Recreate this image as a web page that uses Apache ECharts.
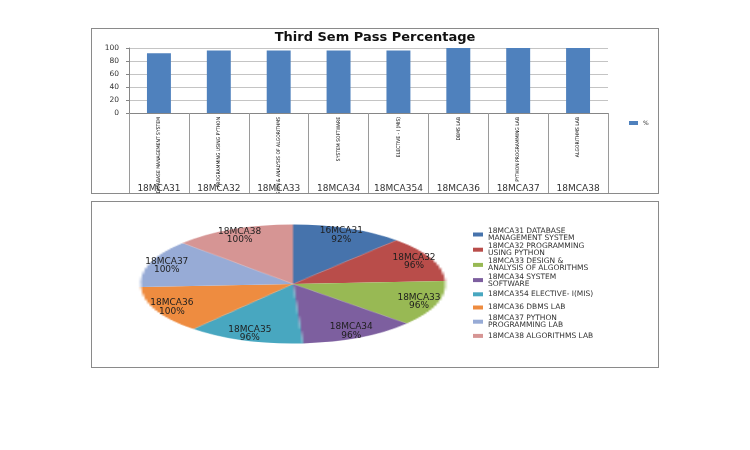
<!DOCTYPE html>
<html>
<head>
<meta charset="utf-8">
<script src="https://cdn.jsdelivr.net/npm/echarts@6/dist/echarts.min.js"></script>
<style>
body { margin: 0; background: #fff; }
.card {
    position: absolute;
    box-sizing: border-box;
    border: 1px solid #8a8a8a;
    background: #fff;
}
#barCard { left: 91px; top: 28px; width: 568px; height: 166px; }
#pieCard { left: 91px; top: 201px; width: 568px; height: 167px; }
#bar { position: absolute; left: 0; top: 0; width: 566px; height: 164px; }
/* excel drew the pie squashed, so the pie canvas is stretched sideways */
#pieShape {
    position: absolute;
    left: 136px; top: 17px; width: 130px; height: 130px;
    transform: scaleX(2.56);
    transform-origin: 50% 50%;
}
#pieText { position: absolute; left: 0; top: 0; width: 566px; height: 165px; }
</style>
</head>
<body>
<div id="barCard" class="card"><div id="bar"></div></div>
<div id="pieCard" class="card">
  <div id="pieShape"></div>
  <div id="pieText"></div>
</div>

<script>
// data
var subjects = ['DATABASE MANAGEMENT SYSTEM', 'PROGRAMMING USING PYTHON', 'DESIGN & ANALYSIS OF ALGORITHMS',
    'SYSTEM SOFTWARE', 'ELECTIVE - I (MIS)', 'DBMS LAB', 'PYTHON PROGRAMMING LAB', 'ALGORITHMS LAB'];
var codes = ['18MCA31', '18MCA32', '18MCA33', '18MCA34', '18MCA354', '18MCA36', '18MCA37', '18MCA38'];
var passPct = [92, 96, 96, 96, 96, 100, 100, 100];
var yTicks = { min: 0, max: 100, step: 20 };

// pie labels (as printed on the slices) and legend text
var pieCodes = ['16MCA31', '18MCA32', '18MCA33', '18MCA34', '18MCA35', '18MCA36', '18MCA37', '18MCA38'];
var legendNames = ['18MCA31 DATABASE\nMANAGEMENT SYSTEM', '18MCA32 PROGRAMMING\nUSING PYTHON',
    '18MCA33 DESIGN &\nANALYSIS OF ALGORITHMS', '18MCA34 SYSTEM\nSOFTWARE', '18MCA354 ELECTIVE- I(MIS)',
    '18MCA36 DBMS LAB', '18MCA37 PYTHON\nPROGRAMMING LAB', '18MCA38 ALGORITHMS LAB'];
var pieColors = ['#4673ac', '#b94d4a', '#98b954', '#7d5f9f', '#48a7c0', '#ee8c40', '#97abd6', '#d69594'];

var FONT = '"DejaVu Sans", Verdana, sans-serif';

// ---------- bar chart ----------
var barChart = echarts.init(document.getElementById('bar'));
barChart.setOption({
    animation: false,
    title: {
        text: 'Third Sem Pass Percentage',
        left: 'center',
        top: 2,
        padding: 0,
        textStyle: { fontFamily: FONT, fontSize: 13, fontWeight: 'bold', color: '#111' }
    },
    legend: {
        left: 532, top: 86,
        itemWidth: 9, itemHeight: 4, icon: 'rect',
        textStyle: { fontFamily: FONT, fontSize: 6, color: '#333' },
        data: ['%']
    },
    grid: { left: 37, right: 50, top: 19, bottom: 80, outerBoundsMode: 'none' },
    xAxis: [{
        type: 'category',
        data: subjects,
        axisLine: { lineStyle: { color: '#868686' } },
        axisTick: { show: true, length: 80, alignWithLabel: false, interval: 0, lineStyle: { color: '#9a9a9a' } },
        axisLabel: {
            interval: 0, rotate: 90, margin: 4,
            fontFamily: '"Liberation Sans Narrow", "DejaVu Sans Condensed", "Liberation Sans", sans-serif',
            fontSize: 5, color: '#000'
        }
    }, {
        type: 'category',
        position: 'bottom',
        offset: 68,
        data: codes,
        axisLine: { show: false },
        axisTick: { show: false },
        axisLabel: { interval: 0, margin: 3, fontFamily: FONT, fontSize: 9, color: '#333' }
    }],
    yAxis: {
        type: 'value',
        min: yTicks.min, max: yTicks.max, interval: yTicks.step,
        axisLine: { show: true, lineStyle: { color: '#868686' } },
        axisTick: { show: true, length: 3, lineStyle: { color: '#868686' } },
        axisLabel: { fontFamily: FONT, fontSize: 7.5, color: '#333', margin: 10 },
        splitLine: { lineStyle: { color: '#c4c4c4' } }
    },
    series: [{
        name: '%',
        type: 'bar',
        data: passPct,
        barWidth: '40%',
        itemStyle: { color: '#4f81bd' }
    }]
});

// ---------- pie chart ----------
var PIE_R = 59.5;       // vertical radius
var STRETCH = 2.56;     // same as the css scaleX on #pieShape
var LABEL_R = 1.6;      // labels sit at ~0.8 of radius instead of 0.5
var PIE_CX = 200.5, PIE_CY = 82;

var pieData = passPct.map(function (v, i) {
    return { name: legendNames[i], value: v };
});

var shapeChart = echarts.init(document.getElementById('pieShape'));
shapeChart.setOption({
    animation: false,
    color: pieColors,
    series: [{
        type: 'pie',
        radius: PIE_R,
        center: ['50%', '50%'],
        startAngle: 90,
        data: pieData,
        label: { show: false },
        labelLine: { show: false },
        itemStyle: { borderWidth: 0 }
    }]
});

var textChart = echarts.init(document.getElementById('pieText'));
textChart.setOption({
    animation: false,
    legend: {
        orient: 'vertical',
        left: 376, top: 20,
        icon: 'rect', itemWidth: 10, itemHeight: 4, itemGap: 0.2,
        selectedMode: false,
        textStyle: { fontFamily: FONT, fontSize: 7.5, lineHeight: 7, height: 13, color: '#333' },
        data: legendNames.map(function (n, i) {
            return { name: n, itemStyle: { color: pieColors[i] } };
        })
    },
    series: [{
        type: 'pie',
        silent: true,
        radius: PIE_R,
        center: [PIE_CX, PIE_CY],
        startAngle: 90,
        data: pieData,
        itemStyle: { color: 'rgba(0,0,0,0)', borderWidth: 0 },
        label: {
            show: true,
            position: 'inside',
            fontFamily: FONT, fontSize: 9, lineHeight: 8.5, color: '#1e1e1e',
            formatter: function (p) { return pieCodes[p.dataIndex] + '\n' + p.value + '%'; }
        },
        labelLine: { show: false },
        labelLayout: function (p) {
            var r = p.labelRect;
            var lx = r.x + r.width / 2, ly = r.y + r.height / 2;
            return {
                dx: (lx - PIE_CX) * (STRETCH * LABEL_R - 1),
                dy: (ly - PIE_CY) * (LABEL_R - 1)
            };
        }
    }]
});
</script>
</body>
</html>
